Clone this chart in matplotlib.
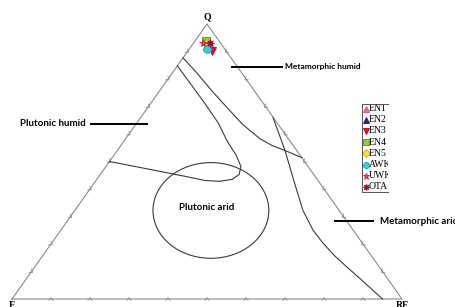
import numpy as np
import matplotlib
matplotlib.use("Agg")
import matplotlib.pyplot as plt
from matplotlib.patches import Ellipse, Rectangle

# ---- data (percent, F = 100 - Q - RF) ----------------------------------
samples   = ["EN1", "EN2", "EN3", "EN4", "EN5", "AWK", "UWK", "OTA"]
sample_q  = [93.0, 92.0, 90.0, 94.0, 93.0, 91.0, 93.0, 93.1]
sample_rf = [4.0, 4.0, 6.2, 2.8, 3.5, 4.6, 2.6, 4.2]
markers   = ["^", "^", "v", "s", "D", "o", "*", (8, 1, 0)]
faces     = ["#f06a9a", "#3a1aa0", "#e8102a", "#9acd32", "#ffe030", "#30d0e0", "#ff6080", "#a01030"]
edges     = ["#d04878", "#2a1080", "#c00020", "#5a8a20", "#d0a000", "#20a8b8", "#d01030", "#a01030"]

# boundary between plutonic humid and the rest
plut_q  = [84.8, 78.6, 71.0, 64.1, 57.6, 52.2, 48.2, 45.3, 43.5, 42.8, 43.1, 44.6, 46.4, 48.2, 50.0]
plut_rf = [0.0, 6.3, 14.0, 20.8, 26.3, 31.4, 34.6, 35.6, 34.7, 31.9, 27.9, 22.1, 14.8, 7.4, 0.0]
# lower boundary of metamorphic humid
meta_q  = [87.7, 82.2, 75.7, 69.2, 63.4, 58.3, 55.8, 54.0, 51.4]
meta_rf = [0.0, 6.3, 13.4, 20.8, 27.5, 34.4, 38.8, 43.0, 48.6]
# metamorphic arid boundary
arid_q  = [65.9, 60.1, 54.0, 43.1, 32.2, 25.0, 20.3, 15.6, 11.6, 5.8, 0.0]
arid_rf = [34.0, 38.4, 43.0, 50.7, 58.5, 64.7, 69.6, 75.0, 80.1, 87.6, 95.0]
# plutonic arid field (centre Q, RF and size as fraction of base / height)
parid_q, parid_rf = 32.2, 34.9
parid_w, parid_h = 0.297, 0.348

ticks = np.arange(10, 100, 10)

# ---- figure in pixel coordinates ---------------------------------------
fig = plt.figure(figsize=(4.55, 3.07), dpi=100)
ax = fig.add_axes([0, 0, 1, 1])
ax.set_xlim(0, 455)
ax.set_ylim(307, 0)
ax.axis("off")

FV = np.array([12.0, 299.0])
RV = np.array([402.0, 299.0])
QV = np.array([207.0, 24.0])
base = RV[0] - FV[0]
height = FV[1] - QV[1]


def to_xy(q, rf):
    q = np.asarray(q, float) / 100
    rf = np.asarray(rf, float) / 100
    f = 1 - q - rf
    x = f * FV[0] + rf * RV[0] + q * QV[0]
    y = f * FV[1] + rf * RV[1] + q * QV[1]
    return x, y


tri_col = "#8a8a8a"
ax.plot([FV[0], RV[0], QV[0], FV[0]], [FV[1], RV[1], QV[1], FV[1]], color=tri_col, lw=0.8)


def chevron(p, n, t, s=2.0):
    a = p + n * s * 0.7
    l1 = p - n * s * 0.7 + t * s
    l2 = p - n * s * 0.7 - t * s
    ax.plot([l1[0], a[0], l2[0]], [l1[1], a[1], l2[1]], color=tri_col, lw=0.6)


edges_def = [(FV, RV), (FV, QV), (RV, QV)]
centroid = (FV + RV + QV) / 3
for a, b in edges_def:
    d = (b - a) / np.linalg.norm(b - a)
    n = np.array([-d[1], d[0]])
    if np.dot(centroid - a, n) < 0:
        n = -n
    for tk in ticks:
        chevron(a + (b - a) * tk / 100, n, d)

line_col = "#3a3a3a"
for qq, rr in [(plut_q, plut_rf), (meta_q, meta_rf), (arid_q, arid_rf)]:
    x, y = to_xy(qq, rr)
    ax.plot(x, y, color=line_col, lw=0.8)

cx, cy = to_xy(parid_q, parid_rf)
ax.add_patch(Ellipse((cx, cy), parid_w * base, parid_h * height, fill=False,
                     edgecolor=line_col, lw=0.8))

for i in range(len(samples)):
    x, y = to_xy(sample_q[i], sample_rf[i])
    ax.plot(x, y, marker=markers[i], ls="none", ms=5.5, mfc=faces[i], mec=edges[i], mew=0.6)

# ---- labels -----------------------------------------------------------
vfont = dict(family="Liberation Serif", fontweight="bold", fontsize=7)
ax.text(QV[0], QV[1] - 3, "Q", ha="center", va="bottom", **vfont)
ax.text(FV[0], FV[1] + 2, "F", ha="center", va="top", **vfont)
ax.text(RV[0], RV[1] + 2, "RF", ha="center", va="top", **vfont)

lfont = dict(family="Lato", fontweight="bold")
ax.text(86, 124, "Plutonic humid", ha="right", va="center", fontsize=7, **lfont)
ax.plot([91, 147], [124, 124], color="black", lw=1.4)
ax.plot([232, 282], [67, 67], color="black", lw=1.4)
ax.text(285, 67, "Metamorphic humid", ha="left", va="center", fontsize=6, **lfont)
ax.plot([335, 373], [221, 221], color="black", lw=1.4)
ax.text(380, 221, "Metamorphic arid", ha="left", va="center", fontsize=7, **lfont)
ax.text(cx - 4, cy - 3, "Plutonic arid", ha="center", va="center", fontsize=7, **lfont)

# ---- legend (right side cut off) -------------------------------------
lx0, lx1, ly0, ly1 = 362, 388, 104, 192
for i, name in enumerate(samples):
    y = 108.5 + 11.2 * i
    ax.plot(365.5, y, marker=markers[i], ls="none", ms=4.5, mfc=faces[i], mec=edges[i], mew=0.6)
    ax.text(368.5, y, name, ha="left", va="center", family="Liberation Serif", fontsize=7)
ax.add_patch(Rectangle((lx1, ly0 - 1), 30, ly1 - ly0 + 2, facecolor="white",
                       edgecolor="none", zorder=5))
ax.plot([lx1, lx0, lx0, lx1], [ly0, ly0, ly1, ly1], color="#555555", lw=0.7, zorder=6)

fig.savefig("out.png", dpi=100)
